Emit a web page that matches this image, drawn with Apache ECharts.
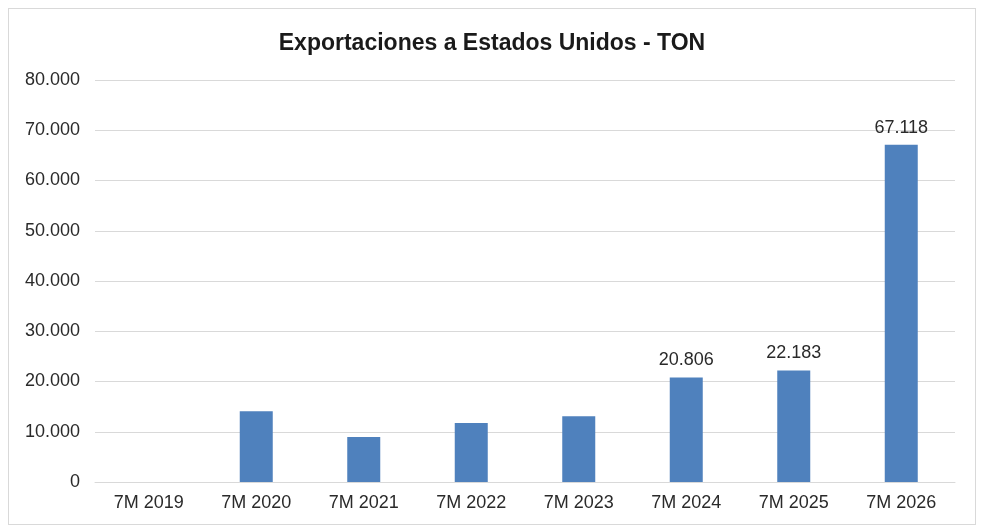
<!DOCTYPE html>
<html><head><meta charset="utf-8">
<script src="https://cdn.jsdelivr.net/npm/echarts@6/dist/echarts.min.js"></script>
<style>html,body{margin:0;padding:0;background:#fff}#frame{position:absolute;left:8px;top:8px;width:968px;height:517px;border:1px solid #d9d9d9;box-sizing:border-box}#c{position:absolute;left:0;top:0;width:984px;height:531px}</style>
</head><body><div id="frame"></div><div id="c"></div>
<script>
var categories = ['7M 2019','7M 2020','7M 2021','7M 2022','7M 2023','7M 2024','7M 2025','7M 2026'];
var values = [0, 14100, 8950, 11750, 13100, 20806, 22183, 67118];
var labeled = ['7M 2024','7M 2025','7M 2026'];
function fmt(v){return String(Math.round(v)).replace(/\B(?=(\d{3})+(?!\d))/g,'.');}
var chart = echarts.init(document.getElementById('c'));
chart.setOption({
  animation:false,
  title:{text:'Exportaciones a Estados Unidos - TON',left:'center',top:27,textStyle:{fontFamily:'Liberation Sans',fontSize:23,fontWeight:'bold',color:'#1a1a1a'}},
  grid:{left:95,right:29,top:80,bottom:49},
  xAxis:{type:'category',data:categories,axisTick:{show:false},axisLine:{lineStyle:{color:'#d9d9d9'}},
    axisLabel:{fontFamily:'Liberation Sans',fontSize:18,color:'#2a2a2a',margin:12}},
  yAxis:{type:'value',min:0,max:80000,interval:10000,axisLine:{show:false},axisTick:{show:false},
    splitLine:{lineStyle:{color:'#d9d9d9'}},
    axisLabel:{fontFamily:'Liberation Sans',fontSize:18,color:'#2a2a2a',margin:15,formatter:fmt}},
  series:[{type:'bar',data:values.map(function(v,i){return {value:v,label:{show:labeled.indexOf(categories[i])>=0}};}),
    barWidth:33,itemStyle:{color:'#4F81BD'},
    label:{position:'top',distance:8,fontFamily:'Liberation Sans',fontSize:18,color:'#2a2a2a',formatter:function(p){return fmt(p.value);}}}]
});
</script></body></html>
